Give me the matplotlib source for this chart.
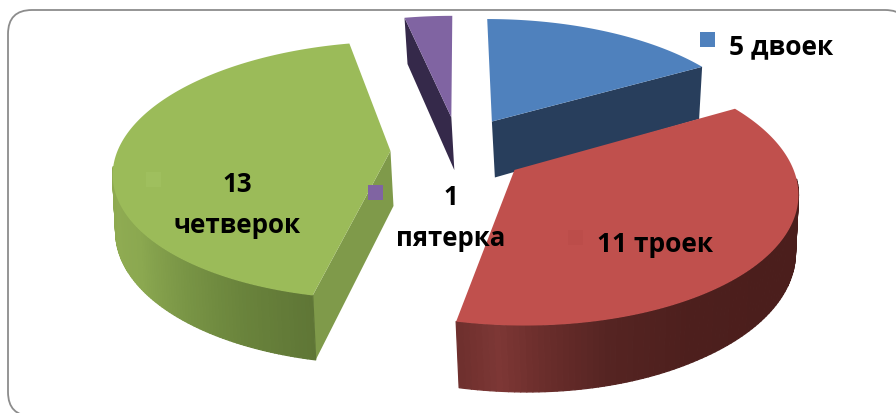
import numpy as np
import matplotlib
matplotlib.use("Agg")
import matplotlib.pyplot as plt
from matplotlib.patches import FancyBboxPatch, Polygon, Rectangle

# --- data ---
categories = ["двоек", "троек", "четверок", "пятерка"]
counts = [5, 11, 13, 1]
top_colors = ["#4f81bd", "#c0504d", "#9bbb59", "#8064a2"]
edge_wall_colors = ["#283e5c", "#5c2725", "#7f9a4a", "#35294a"]
rim_stops = {1: ["#4a1e1c", "#4b1e1c", "#4d1f1d", "#552422", "#6a2d2b", "#7d3735", "#6d2f2d"],
             2: ["#5f7636", "#6a843c", "#7a9646", "#8ba850", "#8fab52", "#8eaa50"]}
rim_pos = {1: [0, 0.35, 0.55, 0.72, 0.84, 0.92, 1.0],
           2: [0, 0.2, 0.4, 0.6, 0.8, 1.0]}
label_texts = ["5 двоек", "11 троек", "13\nчетверок", "1\nпятерка"]

# --- layout ---
W, H = 896, 413
CX, CY, A, B, K = 457, 151, 273, 126, 0.15
DEPTHS = [58, 55, 55, 55]
EXPLODE = [0.28, 0.25, 0.24, 0.28]
NUDGE_X = [-2, 1, -1, 2]
visible_rim = {1: (94, 192), 2: (192, 263)}
radial_wall = {0: "end", 2: "start", 3: "start"}


def project(x, y, drop=0.0, nudge=0.0):
    s = 1 / (1 + K * y)
    px = CX + A * x * s + nudge
    if drop:
        px += np.clip((600 - px) * 0.03, -3, 3)
    return (px, CY - B * y * s + drop * s)


plt.rcParams["font.family"] = ["Open Sans", "DejaVu Sans"]
fig = plt.figure(figsize=(W / 100, H / 100), dpi=100)
ax = fig.add_axes([0, 0, 1, 1])
ax.set_xlim(0, W)
ax.set_ylim(H, 0)
ax.axis("off")

ax.add_patch(FancyBboxPatch((8, 10), 901, 406,
                            boxstyle="round,pad=0,rounding_size=24",
                            fc="white", ec="#8c8c8c", lw=1.3, zorder=0))

edges = np.cumsum([0] + counts) / sum(counts) * 360
order = [3, 2, 0, 1]
for i in order:
    a0, a1 = edges[i], edges[i + 1]
    mid = np.radians((a0 + a1) / 2)
    ox, oy = EXPLODE[i] * np.sin(mid), EXPLODE[i] * np.cos(mid)
    nx = NUDGE_X[i]
    depth = DEPTHS[i]

    def rim(deg):
        r = np.radians(deg)
        return ox + np.sin(r), oy + np.cos(r)

    z = 2 + order.index(i)
    # radial cut wall
    if i in radial_wall:
        ang = a1 if radial_wall[i] == "end" else a0
        rx, ry = rim(ang)
        ax.add_patch(Polygon([project(ox, oy, 0, nx), project(rx, ry, 0, nx),
                              project(rx, ry, depth, nx), project(ox, oy, depth, nx)],
                             closed=True, fc=edge_wall_colors[i], ec="none", zorder=z))
    # outer rim wall with a stepped gradient
    if i in visible_rim:
        r0, r1 = visible_rim[i]
        stops = np.array([matplotlib.colors.to_rgb(c) for c in rim_stops[i]])
        n = 90
        angs = np.linspace(r0, r1, n + 1)
        for q0, q1 in zip(angs[:-1], angs[1:]):
            x0, y0 = rim(q0)
            x1, y1 = rim(q1)
            t = (q0 - r0) / (r1 - r0)
            col = [np.interp(t, rim_pos[i], stops[:, c]) for c in range(3)]
            ax.add_patch(Polygon([project(x0, y0, 0, nx), project(x1, y1, 0, nx),
                                  project(x1, y1, depth, nx), project(x0, y0, depth, nx)],
                                 closed=True, fc=col, ec=col, lw=0.9, joinstyle="round", zorder=z))
    # top face
    angs = np.linspace(a0, a1, 200)
    pts = [project(ox, oy, 0, nx)] + [project(*rim(q), 0, nx) for q in angs]
    ax.add_patch(Polygon(pts, closed=True, fc=top_colors[i], ec="none", zorder=z + 0.5))

font = dict(fontweight="bold", color="black", ha="center", va="center", zorder=20,
            linespacing=1.68)
ax.text(781, 47, label_texts[0], fontsize=19, **font)
ax.text(655, 244, label_texts[1], fontsize=19, **font)
ax.text(237, 205, label_texts[2], fontsize=18.7, **font)
ax.text(451, 218, label_texts[3], fontsize=18.5, **font)

for (x, y), c in [((700, 32), top_colors[0]), ((568, 230), "#bc4d4a"),
                  ((146, 172), "#9fbf5e"), ((368, 185), top_colors[3])]:
    ax.add_patch(Rectangle((x, y), 15, 15, fc=c, ec="none", zorder=19))

fig.savefig("out.png", dpi=100)
